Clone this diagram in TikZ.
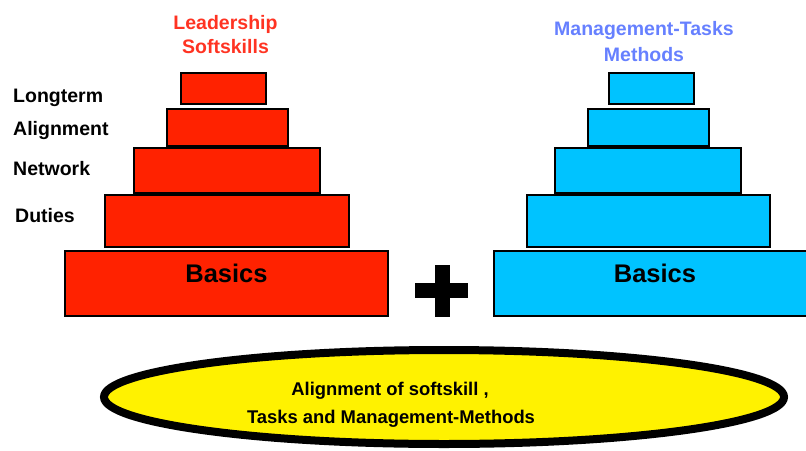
\documentclass[tikz,border=0pt]{standalone}
\usepackage{fontspec}
\setmainfont{Liberation Sans}
\definecolor{softred}{HTML}{FF2200}
\definecolor{softtitle}{HTML}{FF3322}
\definecolor{taskblue}{HTML}{00C3FF}
\definecolor{tasktitle}{HTML}{6680FF}
\tikzset{
	layer/.style={draw=black, line width=2.5pt},
	sidelabel/.style={anchor=base west, inner sep=0pt, font=\fontsize{19.5}{22}\selectfont\bfseries},
	title/.style={anchor=base, inner sep=0pt, font=\fontsize{19.5}{22}\selectfont\bfseries},
	basetext/.style={anchor=base, inner sep=0pt, font=\fontsize{25.5}{28}\selectfont\bfseries},
	ovaltext/.style={anchor=base, inner sep=0pt, font=\fontsize{18.4}{21}\selectfont\bfseries}
}

\begin{document}
\begin{tikzpicture}[x=1pt, y=-1pt]
		%%%%% START %%%%%
		\useasboundingbox (0, 0) rectangle (806, 450);
		\clip (0, 0) rectangle (806, 450);
		
		% left pyramid
		\draw[layer, fill=softred] (181.2, 73.2) rectangle (265.8, 103.8);
		\draw[layer, fill=softred] (167.2, 109.2) rectangle (287.8, 146.0);
		\draw[layer, fill=softred] (134.2, 148.2) rectangle (319.8, 192.8);
		\draw[layer, fill=softred] (105.2, 195.2) rectangle (348.8, 247.0);
		\draw[layer, fill=softred] (65.2, 251.2) rectangle (387.8, 315.8);
		
		% right pyramid
		\draw[layer, fill=taskblue] (609.2, 73.2) rectangle (693.8, 103.8);
		\draw[layer, fill=taskblue] (588.2, 109.2) rectangle (708.8, 146.0);
		\draw[layer, fill=taskblue] (555.2, 148.2) rectangle (740.8, 192.8);
		\draw[layer, fill=taskblue] (527.2, 195.2) rectangle (769.8, 247.0);
		\draw[layer, fill=taskblue] (494.2, 251.2) rectangle (818.8, 315.8);
		
		\node[title, text=softtitle] (leadtop) at (225.5, 29) {Leadership};
		\node[title, text=softtitle] (leadbot) at (225.5, 53) {Softskills};
		\node[title, text=tasktitle] (mgmttop) at (644.0, 35) {Management-Tasks};
		\node[title, text=tasktitle] (mgmtbot) at (644.0, 61) {Methods};
		
		\node[sidelabel] (longterm) at (13, 102) {Longterm};
		\node[sidelabel] (alignment) at (13, 135) {Alignment};
		\node[sidelabel] (network) at (13, 175) {Network};
		\node[sidelabel] (duties) at (15, 222) {Duties};
		
		\node[basetext] (basicsleft) at (226.5, 282) {Basics};
		\node[basetext] (basicsright) at (655.0, 282) {Basics};
		
		% plus sign
		\fill[black] (415, 283) rectangle (468, 298);
		\fill[black] (435, 265) rectangle (450, 317);
		
		% alignment oval
		\draw[line width=8pt, fill=yellow] (444, 397) ellipse (340 and 47);
		\node[ovaltext] (ovaltop) at (390, 395) {Alignment of softskill ,};
		\node[ovaltext] (ovalbot) at (391, 423) {Tasks and Management-Methods};
		%%%%% END %%%%%
	\end{tikzpicture}
\end{document}
